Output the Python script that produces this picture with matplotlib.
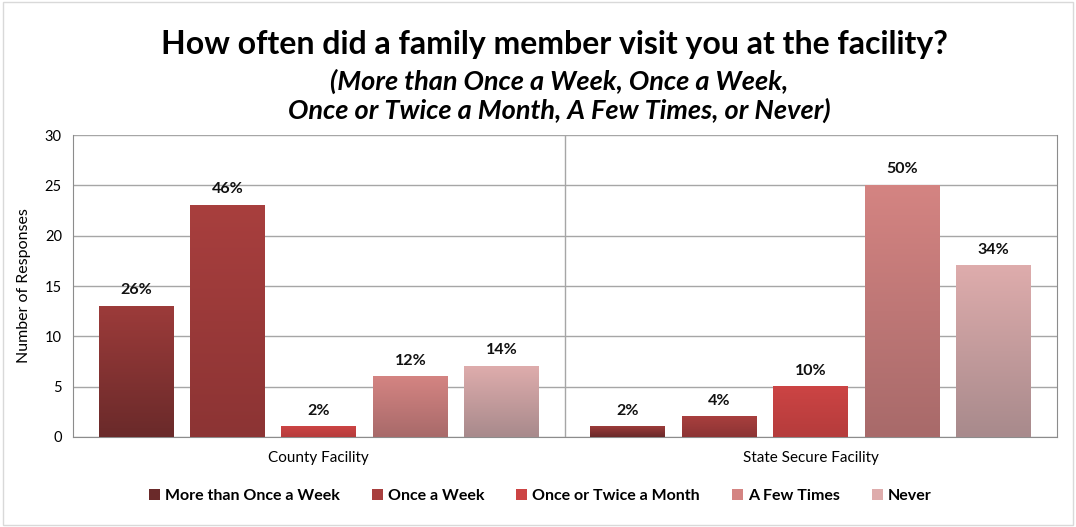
import matplotlib.pyplot as plt
import numpy as np
from matplotlib.colors import LinearSegmentedColormap

plt.rcParams['font.family'] = ['Lato', 'DejaVu Sans']

groups = ['County Facility', 'State Secure Facility']
series = ['More than Once a Week', 'Once a Week', 'Once or Twice a Month', 'A Few Times', 'Never']
values = [[13, 23, 1, 6, 7],
          [1, 2, 5, 25, 17]]
labels = [['26%', '46%', '2%', '12%', '14%'],
          ['2%', '4%', '10%', '50%', '34%']]
# (top, bottom) colours of each bar gradient
tops = ['#9c3b3a', '#a83f3e', '#cc4444', '#d48482', '#deacac']
bottoms = ['#6a2a2a', '#8c3434', '#b53c3c', '#a86a6a', '#a88a8c']

fig = plt.figure(figsize=(10.76, 5.27), dpi=100)
ax = fig.add_axes([0.0678, 0.1708, 0.9142, 0.573])

step = 0.186
width = 0.152
for g in range(len(groups)):
    for s in range(len(series)):
        x = g + (s - 2) * step
        v = values[g][s]
        bars = ax.bar(x, v, width, color=tops[s], zorder=3)
        p = bars[0]
        cmap = LinearSegmentedColormap.from_list('g', [bottoms[s], tops[s]])
        grad = np.linspace(0, 1, 100).reshape(-1, 1)
        ax.imshow(grad, cmap=cmap, aspect='auto', origin='lower', zorder=4,
                  extent=[p.get_x(), p.get_x() + p.get_width(), 0, v])
        ax.text(x, v + 0.9, labels[g][s], ha='center', va='bottom',
                fontsize=11.5, fontweight='bold', color='#111111', zorder=5)

for s in range(len(series)):
    ax.bar(0, 0, color=tops[s] if s != 0 else bottoms[0], label=series[s])

ax.set_xlim(-0.5, 1.5)
ax.set_ylim(0, 30)
ax.set_yticks(range(0, 31, 5))
ax.set_xticks([0, 1])
ax.set_xticklabels(groups, fontsize=11)
ax.tick_params(axis='x', length=0, pad=10)
ax.tick_params(axis='y', length=0, pad=8, labelsize=10.5)
ax.yaxis.grid(True, color='#a6a6a6', linewidth=1)
ax.set_axisbelow(True)
ax.axvline(0.5, color='#a6a6a6', linewidth=1, zorder=1)
for sp in ['top']:
    ax.spines[sp].set_visible(False)
for sp in ['left', 'right', 'bottom']:
    ax.spines[sp].set_color('#8c8c8c')
ax.set_ylabel('Number of Responses', fontsize=11.5, labelpad=10)

fig.text(0.515, 0.915, 'How often did a family member visit you at the facility?',
         ha='center', va='center', fontsize=23, fontweight='bold')
fig.text(0.52, 0.818, '(More than Once a Week, Once a Week,\nOnce or Twice a Month, A Few Times, or Never)',
         ha='center', va='center', fontsize=19.5, fontweight='bold', style='italic',
         linespacing=1.2)

leg = fig.legend(loc='center', bbox_to_anchor=(0.502, 0.059), ncol=5, frameon=False,
                 prop={'weight': 'bold', 'size': 11.5}, handlelength=0.7, handleheight=0.7,
                 handletextpad=0.3, columnspacing=2.0)

fig.patches.append(plt.Rectangle((0.003, 0.004), 0.994, 0.992, transform=fig.transFigure,
                                 fill=False, edgecolor='#d9d9d9', linewidth=1))
fig.savefig('out.png', dpi=100)
